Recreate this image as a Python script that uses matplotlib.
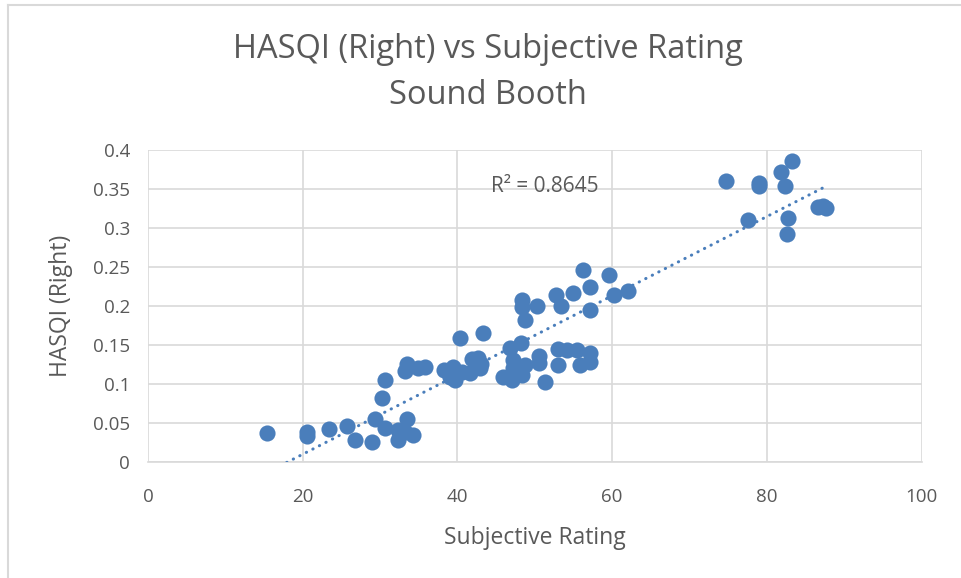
import numpy as np
import matplotlib.pyplot as plt
from matplotlib.lines import Line2D

# Subjective rating (x) and HASQI right-ear score (y), sound booth sessions
rating = [15.4, 20.5, 20.5, 23.4, 25.7, 26.7, 28.9, 29.3, 30.2, 30.6,
          30.6, 32.3, 32.3, 33.2, 33.5, 33.5, 33.2, 34.2, 34.9, 35.8,
          38.3, 39.0, 39.4, 39.7, 39.3, 40.3, 40.6, 41.6, 41.9, 42.6,
          42.9, 43.3, 43.0, 45.9, 46.8, 47.0, 47.2, 47.2, 47.8, 48.2,
          48.3, 48.3, 48.7, 48.4, 48.7, 50.3, 50.6, 50.6, 51.3, 52.7,
          53.0, 53.4, 53.0, 54.1, 54.9, 55.4, 55.8, 56.2, 57.1, 57.2,
          57.2, 57.2, 59.6, 60.2, 62.1, 74.7, 77.5, 79.0, 79.0, 81.8,
          82.3, 83.3, 82.7, 82.6, 86.6, 87.2, 87.6]
hasqi = [0.037, 0.038, 0.033, 0.042, 0.046, 0.028, 0.026, 0.055, 0.082, 0.105,
         0.044, 0.028, 0.041, 0.038, 0.055, 0.126, 0.117, 0.035, 0.120, 0.122,
         0.118, 0.109, 0.122, 0.105, 0.115, 0.159, 0.115, 0.114, 0.132, 0.133,
         0.120, 0.165, 0.126, 0.109, 0.146, 0.105, 0.131, 0.120, 0.114, 0.153,
         0.208, 0.199, 0.182, 0.112, 0.124, 0.200, 0.136, 0.127, 0.103, 0.214,
         0.145, 0.200, 0.124, 0.144, 0.217, 0.144, 0.124, 0.246, 0.224, 0.195,
         0.140, 0.128, 0.240, 0.214, 0.219, 0.360, 0.310, 0.358, 0.354, 0.372,
         0.354, 0.386, 0.313, 0.292, 0.327, 0.328, 0.326]

r2_label = "R² = 0.8645"

x = np.array(rating)
y = np.array(hasqi)

blue = "#4a7ebb"
grey_txt = "#595959"

fig = plt.figure(figsize=(9.61, 5.78), dpi=100)
plt.rcParams['font.family'] = ['Open Sans', 'DejaVu Sans']
ax = fig.add_axes([0.154, 0.2007, 0.805, 0.5398])

ax.scatter(x, y, s=135, color=blue, zorder=3, linewidths=0)

# linear trendline
slope, intercept = np.polyfit(x, y, 1)
xt = np.linspace(x.min(), x.max(), 200)
ax.plot(xt, slope * xt + intercept, color=blue, lw=2.2,
        linestyle=(0, (0.1, 2.3)), dash_capstyle='round', zorder=4)

ax.set_xlim(0, 100)
ax.set_ylim(0, 0.4)
ax.set_xticks(np.arange(0, 101, 20))
ax.set_yticks(np.arange(0, 0.41, 0.05))
ax.set_yticklabels(["0", "0.05", "0.1", "0.15", "0.2", "0.25", "0.3", "0.35", "0.4"])
ax.grid(True, color="#d9d9d9", lw=1.2)
ax.set_axisbelow(True)
for s in ["top", "right", "left"]:
    ax.spines[s].set_visible(False)
ax.spines["bottom"].set_color("#d9d9d9")
ax.spines["bottom"].set_linewidth(1.2)
ax.tick_params(length=0, labelsize=13.5, colors=grey_txt)
ax.tick_params(axis="x", pad=19)
ax.tick_params(axis="y", pad=13)

ax.set_xlabel("Subjective Rating", fontsize=16.5, color=grey_txt, labelpad=14)
ax.set_ylabel("HASQI (Right)", fontsize=16.5, color=grey_txt, labelpad=14)

fig.text(488 / 961, 1 - 50 / 578, "HASQI (Right) vs Subjective Rating", fontsize=23.5,
         color=grey_txt, ha="center", va="center")
fig.text(488 / 961, 1 - 95 / 578, "Sound Booth", fontsize=23.5,
         color=grey_txt, ha="center", va="center")

ax.text(491 / 961, 1 - 187 / 578, r2_label, transform=fig.transFigure,
        fontsize=15, color=grey_txt, va="center", ha="left")

# chart frame edges
fig.add_artist(Line2D([8 / 961, 8 / 961], [0, 1 - 5 / 578], transform=fig.transFigure,
                      color="#d9d9d9", lw=1.5))
fig.add_artist(Line2D([8 / 961, 1], [1 - 5 / 578, 1 - 5 / 578], transform=fig.transFigure,
                      color="#d9d9d9", lw=1.5))

fig.savefig("out.png", dpi=100)
